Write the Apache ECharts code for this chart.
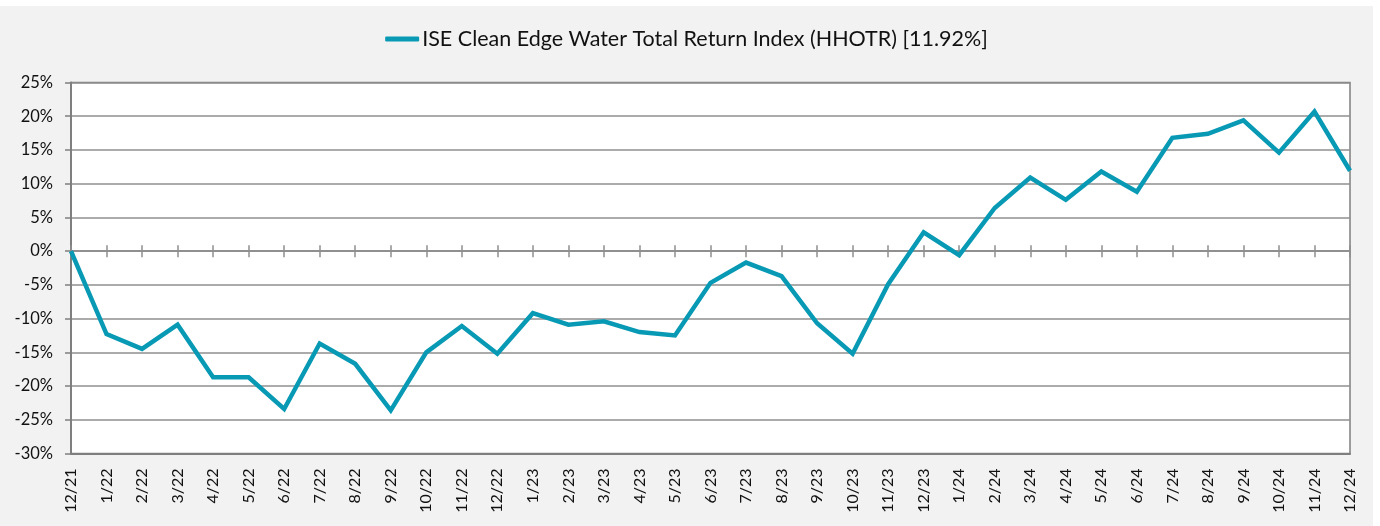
<!DOCTYPE html>
<html>
<head>
<meta charset="utf-8">
<script src="https://cdn.jsdelivr.net/npm/echarts@6/dist/echarts.min.js"></script>
<style>
  html, body { margin: 0; padding: 0; background: #ffffff; }
  #chart { position: absolute; left: 0; top: 6px; width: 1373px; height: 520px; }
</style>
</head>
<body>
<div id="chart"></div>
<script>
// 月份类别
const months = [
  '12/21', '1/22', '2/22', '3/22', '4/22', '5/22', '6/22', '7/22', '8/22', '9/22', '10/22', '11/22', '12/22',
  '1/23', '2/23', '3/23', '4/23', '5/23', '6/23', '7/23', '8/23', '9/23', '10/23', '11/23', '12/23',
  '1/24', '2/24', '3/24', '4/24', '5/24', '6/24', '7/24', '8/24', '9/24', '10/24', '11/24', '12/24'
];

// 累计回报 (%)
const hhotrReturns = [
  0, -12.3, -14.5, -10.9, -18.7, -18.7, -23.4, -13.7, -16.7, -23.6, -15.0, -11.1, -15.2,
  -9.2, -10.9, -10.4, -12.0, -12.5, -4.7, -1.7, -3.7, -10.7, -15.2, -4.9, 2.8,
  -0.6, 6.4, 10.9, 7.6, 11.8, 8.8, 16.8, 17.4, 19.4, 14.6, 20.7, 11.92
];

const seriesName = 'ISE Clean Edge Water Total Return Index (HHOTR) [11.92%]';

// Y轴范围
const yMin = -30;
const yMax = 25;
const yStep = 5;

const lineColor = '#0899b4';
const gridColor = '#8f8f8f';
const axisColor = '#7f7f7f';
const textColor = '#111111';
const fontFamily = 'Lato, "Noto Sans", sans-serif';

const chart = echarts.init(document.getElementById('chart'));

const plotRect = { left: 71, top: 76.5, width: 1279, height: 371 };

const option = {
  backgroundColor: '#f2f2f2',
  animation: false,
  legend: {
    data: [seriesName],
    top: 17,
    left: 'center',
    icon: 'roundRect',
    itemWidth: 34,
    itemHeight: 5,
    itemGap: 4,
    textStyle: { fontFamily, fontSize: 21.5, color: textColor, padding: [0, 0, 0, -2] }
  },
  grid: [
    Object.assign({ show: true, backgroundColor: '#ffffff', borderColor: axisColor, borderWidth: 1.5 }, plotRect),
    Object.assign({}, plotRect)
  ],
  xAxis: [
    {
      // 底部标签轴
      type: 'category',
      gridIndex: 0,
      data: months,
      boundaryGap: false,
      position: 'bottom',
      axisLine: { onZero: false, lineStyle: { color: axisColor, width: 2 } },
      axisTick: { show: false },
      axisLabel: { rotate: 90, margin: 15, fontFamily, fontSize: 16, color: textColor, interval: 0 },
      splitLine: { show: false }
    },
    {
      // 零线向上刻度
      type: 'category',
      gridIndex: 0,
      data: months,
      boundaryGap: false,
      position: 'top',
      axisLine: { onZero: true, lineStyle: { color: gridColor, width: 1.5 } },
      axisTick: { show: true, inside: false, length: 6, interval: 0, lineStyle: { color: gridColor, width: 1.5 } },
      axisLabel: { show: false },
      splitLine: { show: false }
    },
    {
      // 零线向下刻度
      type: 'category',
      gridIndex: 1,
      data: months,
      boundaryGap: false,
      position: 'bottom',
      axisLine: { onZero: true, lineStyle: { color: gridColor, width: 1.5 } },
      axisTick: { show: true, inside: false, length: 6, interval: 0, lineStyle: { color: gridColor, width: 1.5 } },
      axisLabel: { show: false },
      splitLine: { show: false }
    }
  ],
  yAxis: [
    {
      type: 'value',
      gridIndex: 0,
      min: yMin,
      max: yMax,
      interval: yStep,
      axisLine: { show: true, lineStyle: { color: axisColor, width: 2 } },
      axisTick: { show: true, length: 6, lineStyle: { color: axisColor, width: 1.5 } },
      axisLabel: { formatter: '{value}%', fontFamily, fontSize: 16.5, color: textColor, margin: 18 },
      splitLine: { show: true, lineStyle: { color: gridColor, width: 1.5 } }
    },
    {
      type: 'value',
      gridIndex: 1,
      min: yMin,
      max: yMax,
      interval: yStep,
      show: false
    }
  ],
  series: [
    {
      name: seriesName,
      type: 'line',
      xAxisIndex: 0,
      yAxisIndex: 0,
      data: hhotrReturns,
      showSymbol: false,
      symbol: 'none',
      color: lineColor,
      lineStyle: { color: lineColor, width: 4.5, join: 'miter' },
      z: 10
    }
  ]
};

chart.setOption(option);
</script>
</body>
</html>
